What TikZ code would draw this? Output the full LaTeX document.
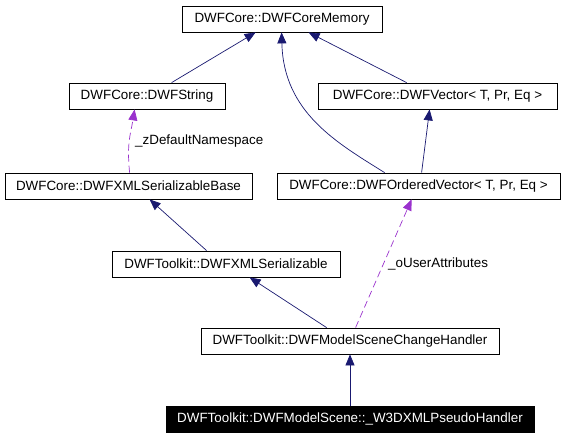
\documentclass[tikz,border=0pt]{standalone}
\usepackage{fontspec}
\setmainfont{Liberation Sans}
\usetikzlibrary{arrows.meta,calc}
\definecolor{edgeblue}{RGB}{25,25,112}
\definecolor{edgepurple}{RGB}{154,50,205}
\tikzset{
  cls/.style={draw=black,line width=0.8pt,fill=white,inner sep=0pt,minimum height=26pt,font=\fontsize{13.4}{15}\selectfont,text=black,anchor=center},
  hl/.style={cls,fill=black,text=white},
  inh/.style={edgeblue,line width=0.7pt,-{Triangle[length=11pt,width=9pt]}},
  use/.style={edgepurple,line width=0.7pt,dash pattern=on 7pt off 4pt,-{Triangle[length=11pt,width=9pt]}},
  lbl/.style={font=\fontsize{13.4}{15}\selectfont,inner sep=0pt,anchor=west}
}
\begin{document}
\begin{tikzpicture}[x=1pt,y=-1pt]
\useasboundingbox (0,0) rectangle (565,437);
\node[cls,minimum width=200pt] (mem) at (282,19) {DWFCore::DWFCoreMemory};
\node[cls,minimum width=156pt] (str) at (147,96) {DWFCore::DWFString};
\node[cls,minimum width=239pt] (vec) at (437.5,96) {DWFCore::DWFVector< T, Pr, Eq >};
\node[cls,minimum width=283pt] (ovec) at (418.5,186) {DWFCore::DWFOrderedVector< T, Pr, Eq >};
\node[cls,minimum width=247pt] (xbase) at (128.5,186) {DWFCore::DWFXMLSerializableBase};
\node[cls,minimum width=228pt] (xser) at (226,264) {DWFToolkit::DWFXMLSerializable};
\node[cls,minimum width=298pt] (msch) at (350,341) {DWFToolkit::DWFModelSceneChangeHandler};
\node[hl,minimum width=368pt] (pseudo) at (350,419) {DWFToolkit::DWFModelScene::\_W3DXMLPseudoHandler};

% inheritance edges
\draw[inh] ($(str.north west)+(103,0)$) -- ($(mem.south west)+(74,0)$);
\draw[inh] ($(vec.north west)+(89,0)$) -- ($(mem.south west)+(127,0)$);
\draw[inh] ($(ovec.north west)+(108,0)$) .. controls ($(ovec.north west)+(60,-30)$) and ($(mem.south west)+(102,80)$) .. ($(mem.south west)+(100,0)$);
\draw[inh] ($(ovec.north west)+(145,0)$) -- ($(vec.south west)+(112,0)$);
\draw[inh] ($(xser.north west)+(95,0)$) -- ($(xbase.south west)+(145,0)$);
\draw[inh] ($(msch.north west)+(126,0)$) -- ($(xser.south west)+(138,0)$);
\draw[inh] (pseudo.north) -- (msch.south);

% usage edges
\draw[use] ($(xbase.north west)+(125,0)$) .. controls ($(xbase.north west)+(122,-30)$) and ($(str.south west)+(62,25)$) .. ($(str.south west)+(66,0)$);
\node[lbl] (lz) at (135,141) {\_zDefaultNamespace};
\draw[use] ($(msch.north west)+(155,0)$) -- ($(ovec.south west)+(135,0)$);
\node[lbl] (lo) at (388,264) {\_oUserAttributes};
\end{tikzpicture}
\end{document}
